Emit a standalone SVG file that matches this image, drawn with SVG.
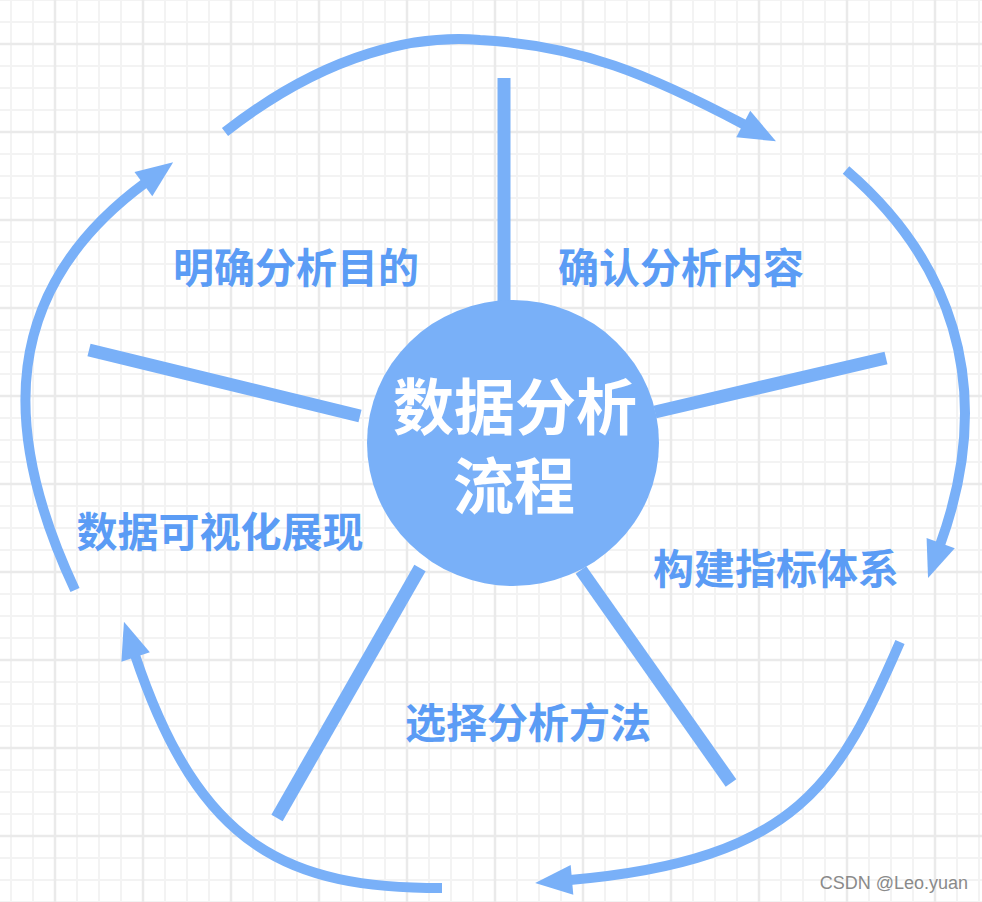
<svg xmlns="http://www.w3.org/2000/svg" width="982" height="902" viewBox="0 0 982 902">
<style>
.spoke{stroke:#79b0f8;stroke-width:13;fill:none}
.arc{stroke:#79b0f8;stroke-width:10;fill:none;marker-end:url(#ah)}
.lbl{font-family:"Noto Sans CJK SC","Noto Sans",sans-serif;font-weight:700;font-size:41px;fill:#5b9cf5;text-anchor:middle}
.ctr{font-family:"Noto Sans CJK SC","Noto Sans",sans-serif;font-weight:700;font-size:61px;fill:#ffffff;text-anchor:middle}
.mn{stroke:#f3f3f3;stroke-width:2}
.mj{stroke:#eaeaea;stroke-width:2.5}
</style>
<defs>
<pattern id="grid" patternUnits="userSpaceOnUse" x="0" y="-11" width="88" height="88">
<path class="mn" d="M11 0V88M33 0V88M77 0V88M0 11H88M0 33H88M0 77H88"/>
<path class="mj" d="M55 0V88M0 55H88"/>
</pattern>
<marker id="ah" markerUnits="userSpaceOnUse" markerWidth="40" markerHeight="32" refX="2" refY="0" orient="auto" overflow="visible" viewBox="0 -16 40 32">
<path d="M0,-15 L37,0 L0,15 z" fill="#79b0f8"/>
</marker>
</defs>
<rect width="982" height="902" fill="#ffffff"/>
<rect width="982" height="902" fill="url(#grid)"/>
<g id="connectors">
<line class="spoke" x1="504" y1="78" x2="504" y2="305"/>
<line class="spoke" x1="89" y1="350" x2="360" y2="416"/>
<line class="spoke" x1="886" y1="358" x2="655" y2="412"/>
<line class="spoke" x1="420" y1="568" x2="277" y2="818"/>
<line class="spoke" x1="581" y1="570" x2="731" y2="783"/>
<path class="arc" d="M225 132 C330 50,420 35,480 40 C580 45,650 75,745 125"/>
<path class="arc" d="M846 170 C945 255,1000 380,940 545"/>
<path class="arc" d="M900 642 C840 780,800 860,570 880"/>
<path class="arc" d="M442 888 C290 888,200 850,135 655"/>
<path class="arc" d="M75 590 C0 430,0 290,145 183"/>
</g>
<g id="center">
<ellipse cx="513" cy="443" rx="146" ry="143" fill="#79b0f8"/>
<text class="ctr"><tspan x="515" y="430">数据分析</tspan><tspan x="514" y="509">流程</tspan></text>
</g>
<g id="n1"><text class="lbl" x="296" y="283">明确分析目的</text></g>
<g id="n2"><text class="lbl" x="681" y="283">确认分析内容</text></g>
<g id="n3"><text class="lbl" x="776" y="584">构建指标体系</text></g>
<g id="n4"><text class="lbl" x="528" y="738">选择分析方法</text></g>
<g id="n5"><text class="lbl" x="220" y="547">数据可视化展现</text></g>
<g id="watermark"><text x="968" y="889" font-family="Liberation Sans,Arial,sans-serif" font-size="18" fill="#8a8a8a" text-anchor="end">CSDN @Leo.yuan</text></g>
</svg>
